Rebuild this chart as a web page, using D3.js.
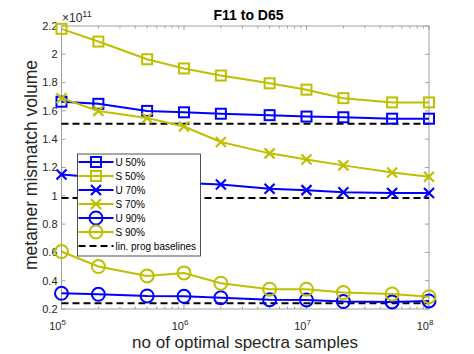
<!DOCTYPE html>
<html>
<head>
<meta charset="utf-8">
<script src="https://cdn.jsdelivr.net/npm/d3@7"></script>
<style>
  body { margin: 0; background: #fff; }
  svg { font-family: "Liberation Sans", Arial, sans-serif; }
</style>
</head>
<body>
<div id="wrapper"></div>
<script>
// data (values in units of 1e11)
const samples = [1e5, 2e5, 5e5, 1e6, 2e6, 5e6, 1e7, 2e7, 5e7, 1e8]
const u50 = [1.665, 1.65, 1.60, 1.59, 1.58, 1.57, 1.56, 1.555, 1.545, 1.545]
const s50 = [2.18, 2.09, 1.965, 1.90, 1.85, 1.795, 1.75, 1.69, 1.66, 1.66]
const u70 = [1.15, 1.13, 1.11, 1.09, 1.08, 1.05, 1.04, 1.025, 1.02, 1.02]
const s70 = [1.69, 1.60, 1.55, 1.49, 1.38, 1.30, 1.257, 1.215, 1.165, 1.135]
const u90 = [0.311, 0.304, 0.292, 0.29, 0.28, 0.265, 0.264, 0.253, 0.25, 0.257]
const s90 = [0.606, 0.50, 0.434, 0.455, 0.382, 0.34, 0.34, 0.316, 0.306, 0.287]
const baselines = [1.51, 0.985, 0.24]
const yTicks = [0.2, 0.4, 0.6, 0.8, 1, 1.2, 1.4, 1.6, 1.8, 2, 2.2]
const xTicks = [1e5, 1e6, 1e7, 1e8]

const blue = "#0000ff"
const olive = "#bfbf00"

const series = [
  { name: "U 50%", values: u50, color: blue, marker: "square" },
  { name: "S 50%", values: s50, color: olive, marker: "square" },
  { name: "U 70%", values: u70, color: blue, marker: "x" },
  { name: "S 70%", values: s70, color: olive, marker: "x" },
  { name: "U 90%", values: u90, color: blue, marker: "circle" },
  { name: "S 90%", values: s90, color: olive, marker: "circle" },
]

const dimensions = {
  width: 474,
  height: 354,
  margin: { top: 26, right: 45, bottom: 45, left: 61.5 },
}
dimensions.boundedWidth = dimensions.width - dimensions.margin.left - dimensions.margin.right
dimensions.boundedHeight = dimensions.height - dimensions.margin.top - dimensions.margin.bottom

const wrapper = d3.select("#wrapper")
  .append("svg")
    .attr("width", dimensions.width)
    .attr("height", dimensions.height)

const bounds = wrapper.append("g")
  .attr("transform", `translate(${dimensions.margin.left}, ${dimensions.margin.top})`)

const xScale = d3.scaleLog()
  .domain([1e5, 1e8])
  .range([0, dimensions.boundedWidth])

const yScale = d3.scaleLinear()
  .domain([0.2, 2.2])
  .range([dimensions.boundedHeight, 0])

// minor log ticks
const minorTicks = []
for (let e = 5; e < 8; e++) {
  for (let m = 2; m <= 9; m++) minorTicks.push(m * Math.pow(10, e))
}

const axisColor = "#a0a0a0"

// axes box
bounds.append("rect")
    .attr("width", dimensions.boundedWidth)
    .attr("height", dimensions.boundedHeight)
    .attr("fill", "none")
    .attr("stroke", axisColor)
    .attr("stroke-width", 1)

// ticks (inward, on all four sides)
const tickLen = 4
const tickG = bounds.append("g").attr("stroke", axisColor).attr("stroke-width", 1)
yTicks.forEach(t => {
  tickG.append("line").attr("x1", 0).attr("x2", tickLen).attr("y1", yScale(t)).attr("y2", yScale(t))
  tickG.append("line").attr("x1", dimensions.boundedWidth).attr("x2", dimensions.boundedWidth - tickLen).attr("y1", yScale(t)).attr("y2", yScale(t))
})
xTicks.forEach(t => {
  tickG.append("line").attr("x1", xScale(t)).attr("x2", xScale(t)).attr("y1", dimensions.boundedHeight).attr("y2", dimensions.boundedHeight - tickLen)
  tickG.append("line").attr("x1", xScale(t)).attr("x2", xScale(t)).attr("y1", 0).attr("y2", tickLen)
})
minorTicks.forEach(t => {
  tickG.append("line").attr("x1", xScale(t)).attr("x2", xScale(t)).attr("y1", dimensions.boundedHeight).attr("y2", dimensions.boundedHeight - 2.5)
  tickG.append("line").attr("x1", xScale(t)).attr("x2", xScale(t)).attr("y1", 0).attr("y2", 2.5)
})

// y tick labels
bounds.selectAll(".ylabel")
  .data(yTicks)
  .enter().append("text")
    .attr("class", "ylabel")
    .attr("x", -4)
    .attr("y", d => yScale(d))
    .attr("dy", "0.35em")
    .attr("text-anchor", "end")
    .attr("fill", "#262626")
    .style("font-size", "11px")
    .text(d => d3.format("~g")(d))

// x tick labels 10^n
const xLabels = bounds.selectAll(".xlabel")
  .data(xTicks)
  .enter().append("text")
    .attr("class", "xlabel")
    .attr("x", d => xScale(d) - 4)
    .attr("y", dimensions.boundedHeight + 21)
    .attr("text-anchor", "middle")
    .attr("fill", "#262626")
    .style("font-size", "11px")
xLabels.append("tspan").text("10")
xLabels.append("tspan")
    .attr("dy", -5)
    .style("font-size", "8px")
    .text(d => Math.round(Math.log10(d)))

// exponent label
const expLabel = bounds.append("text")
    .attr("x", 0.5)
    .attr("y", -4.5)
    .attr("fill", "#262626")
    .style("font-size", "12px")
expLabel.append("tspan").text("\u00d710")
expLabel.append("tspan").attr("dy", -5).style("font-size", "9px").text("11")

// baselines
bounds.selectAll(".baseline")
  .data(baselines)
  .enter().append("line")
    .attr("class", "baseline")
    .attr("x1", 0)
    .attr("x2", dimensions.boundedWidth)
    .attr("y1", d => yScale(d))
    .attr("y2", d => yScale(d))
    .attr("stroke", "#000")
    .attr("stroke-width", 2)
    .attr("stroke-dasharray", "7,4")

// series
const lineGenerator = d3.line()
  .x((d, i) => xScale(samples[i]))
  .y(d => yScale(d))

const drawMarker = (g, type, color, x, y) => {
  if (type === "square") {
    g.append("rect")
      .attr("x", x - 5).attr("y", y - 5).attr("width", 10).attr("height", 10)
      .attr("fill", "none").attr("stroke", color).attr("stroke-width", 2)
  } else if (type === "circle") {
    g.append("circle")
      .attr("cx", x).attr("cy", y).attr("r", 6.5)
      .attr("fill", "none").attr("stroke", color).attr("stroke-width", 2)
  } else {
    const s = 5
    g.append("path")
      .attr("d", `M${x - s},${y - s}L${x + s},${y + s}M${x - s},${y + s}L${x + s},${y - s}`)
      .attr("fill", "none").attr("stroke", color).attr("stroke-width", 2.2)
  }
}

series.forEach(s => {
  const g = bounds.append("g")
  g.append("path")
      .datum(s.values)
      .attr("d", lineGenerator)
      .attr("fill", "none")
      .attr("stroke", s.color)
      .attr("stroke-width", 2)
  s.values.forEach((v, i) => drawMarker(g, s.marker, s.color, xScale(samples[i]), yScale(v)))
})

// legend
const legend = wrapper.append("g")
  .attr("transform", "translate(77.5, 154)")
legend.append("rect")
    .attr("width", 123)
    .attr("height", 102)
    .attr("fill", "#fff")
    .attr("stroke", "#262626")
    .attr("stroke-width", 0.8)

const legendItems = series.map(s => ({ name: s.name, color: s.color, marker: s.marker }))
legendItems.push({ name: "lin. prog baselines", color: "#000", marker: "dash" })

legendItems.forEach((d, i) => {
  const y = 8 + i * 14
  const g = legend.append("g")
  const line = g.append("line")
      .attr("x1", 1).attr("x2", 36).attr("y1", y).attr("y2", y)
      .attr("stroke", d.color).attr("stroke-width", 2)
  if (d.marker === "dash") line.attr("stroke-dasharray", "7,4")
  else drawMarker(g, d.marker, d.color, 18.5, y)
  g.append("text")
      .attr("x", 38)
      .attr("y", y)
      .attr("dy", "0.35em")
      .attr("fill", "#000")
      .style("font-size", "10px")
      .text(d.name)
})

// title and axis labels
wrapper.append("text")
    .attr("x", 248.5)
    .attr("y", 20)
    .attr("text-anchor", "middle")
    .attr("fill", "#000")
    .style("font-size", "14px")
    .style("font-weight", "bold")
    .text("F11 to D65")

wrapper.append("text")
    .attr("x", 245)
    .attr("y", 347.5)
    .attr("text-anchor", "middle")
    .attr("fill", "#262626")
    .style("font-size", "17px")
    .text("no of optimal spectra samples")

wrapper.append("text")
    .attr("transform", "translate(37, 165) rotate(-90)")
    .attr("text-anchor", "middle")
    .attr("fill", "#262626")
    .style("font-size", "17.5px")
    .text("metamer mismatch volume")
</script>
</body>
</html>
